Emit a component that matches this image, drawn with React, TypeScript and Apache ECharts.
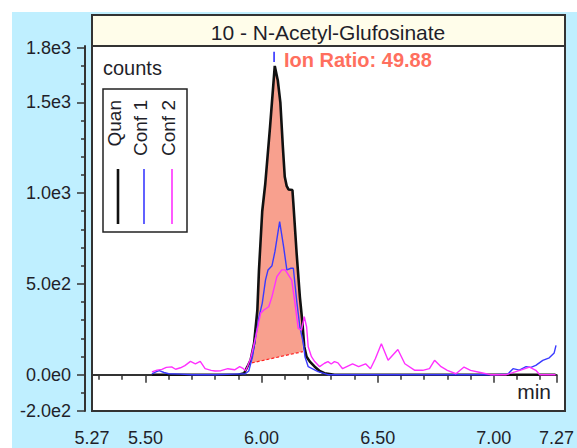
import React, { useEffect, useRef } from "react";
import * as echarts from "echarts";

const chartTitle = "10 - N-Acetyl-Glufosinate";
const yUnit = "counts";
const xUnit = "min";
const seriesNames = ["Quan", "Conf 1", "Conf 2"];
const ionRatioLabel = "Ion Ratio: 49.88";

const xMin = 5.27;
const xMax = 7.27;
const yMin = -200;
const yMax = 1810;
const xLabelTicks = [5.27, 5.5, 6.0, 6.5, 7.0, 7.27];
const xMinorTicks = [5.3, 5.4, 5.6, 5.7, 5.8, 5.9, 6.1, 6.2, 6.3, 6.4, 6.6, 6.7, 6.8, 6.9, 7.1, 7.2];
const yLabelTicks = [-200, 0, 500, 1000, 1500, 1800];
const yMinorTicks = [-100, 100, 200, 300, 400, 600, 700, 800, 900, 1100, 1200, 1300, 1400, 1600, 1700];

// Quan trace (black)
const quan: number[][] = [
  [5.528, 0], [5.6, 0], [5.7, 0], [5.8, 0], [5.9, 0], [5.925, 8], [5.939, 44], [5.953, 81],
  [5.968, 173], [5.982, 356], [5.989, 577], [6.003, 900], [6.016, 1050], [6.037, 1370],
  [6.057, 1700], [6.07, 1620], [6.081, 1500], [6.092, 1250], [6.1, 1090], [6.108, 1040],
  [6.116, 1020], [6.133, 1017], [6.137, 944], [6.151, 670], [6.165, 429], [6.175, 300],
  [6.184, 154], [6.194, 99], [6.208, 72], [6.229, 44], [6.25, 20], [6.271, 8], [6.314, 0],
  [6.5, 0], [6.8, 0], [7.0, 0], [7.266, 0],
];

// Conf 1 trace (blue)
const conf1: number[][] = [
  [5.528, 5], [5.545, 15], [5.56, 22], [5.58, 12], [5.6, 5], [5.65, 3], [5.7, 0], [5.8, 0],
  [5.88, 3], [5.93, 5], [5.945, 20], [5.961, 99], [5.975, 209], [5.989, 319], [6.003, 393],
  [6.017, 521], [6.028, 577], [6.045, 600], [6.058, 680], [6.078, 843], [6.095, 705],
  [6.109, 577], [6.127, 586], [6.137, 586], [6.151, 411], [6.165, 264], [6.18, 173],
  [6.187, 99], [6.201, 44], [6.243, 17], [6.286, 0], [6.5, 0], [6.8, 0], [7.0, 0], [7.06, 3],
  [7.083, 33], [7.11, 25], [7.139, 44], [7.16, 40], [7.181, 51], [7.211, 79], [7.239, 93],
  [7.26, 120], [7.268, 161],
];

// Conf 2 trace (magenta)
const conf2: number[][] = [
  [5.528, 15], [5.55, 25], [5.571, 29], [5.59, 40], [5.613, 43], [5.63, 30], [5.651, 38],
  [5.67, 50], [5.694, 73], [5.715, 60], [5.736, 73], [5.757, 33], [5.783, 24], [5.8, 20],
  [5.825, 22], [5.855, 33], [5.884, 27], [5.906, 44], [5.92, 35], [5.931, 22], [5.939, 44],
  [5.953, 90], [5.975, 209], [5.996, 338], [6.01, 356], [6.031, 374], [6.045, 430],
  [6.066, 540], [6.087, 577], [6.102, 577], [6.13, 521], [6.144, 393], [6.158, 255],
  [6.172, 246], [6.184, 319], [6.194, 264], [6.201, 154], [6.215, 99], [6.229, 72],
  [6.25, 44], [6.271, 63], [6.286, 72], [6.3, 59], [6.314, 72], [6.329, 65], [6.349, 33],
  [6.392, 60], [6.418, 44], [6.448, 60], [6.469, 33], [6.49, 88], [6.516, 170], [6.545, 79],
  [6.587, 139], [6.617, 60], [6.66, 24], [6.694, 24], [6.723, 33], [6.745, 79], [6.773, 44],
  [6.8, 24], [6.837, 5], [6.872, 42], [6.9, 24], [6.942, 12], [6.985, 0], [7.054, 0],
  [7.112, 24], [7.154, 42], [7.181, 24], [7.198, 0], [7.266, 0],
];

// Integration baseline of the quan peak
const baseline: number[][] = [[5.958, 65], [6.178, 127]];
// Apex marker
const apexMarker: number[][] = [[6.054, 1722], [6.054, 1778]];

const FONT = "'Liberation Sans', Arial, sans-serif";
const TEXT = "#1f1f2a";
const AXIS = "#333";
const COLORS = ["#111111", "#3a3aff", "#ff30ff"];

export default function App() {
  const ref = useRef<HTMLDivElement>(null);

  useEffect(() => {
    if (!ref.current) return;
    const chart = echarts.init(ref.current, null, { renderer: "svg" });

    const fmtY = (v: number) => v.toExponential(1).replace("e+", "e");

    const legendX = [118, 144, 172];

    const option: any = {
      animation: false,
      backgroundColor: "#ffffff",
      grid: { left: 92, right: 12, top: 46, bottom: 37, containLabel: false },
      xAxis: [
        {
          type: "value",
          min: xMin,
          max: xMax,
          position: "bottom",
          offset: 7,
          axisLine: { show: true, lineStyle: { color: AXIS, width: 2 } },
          axisTick: { show: true, customValues: xLabelTicks, length: 8, lineStyle: { color: AXIS, width: 1.5 } },
          axisLabel: {
            customValues: xLabelTicks,
            formatter: (v: number) => v.toFixed(2),
            fontSize: 18,
            fontFamily: FONT,
            color: TEXT,
            margin: 11,
          },
          splitLine: { show: false },
        },
        {
          type: "value",
          min: xMin,
          max: xMax,
          position: "bottom",
          offset: 7,
          axisLine: { show: false },
          axisTick: { show: true, customValues: xMinorTicks, length: 5, lineStyle: { color: AXIS, width: 1.5 } },
          axisLabel: { show: false },
          splitLine: { show: false },
        },
      ],
      yAxis: [
        {
          type: "value",
          min: yMin,
          max: yMax,
          position: "left",
          offset: 7,
          axisLine: { show: true, lineStyle: { color: AXIS, width: 2 } },
          axisTick: { show: true, customValues: yLabelTicks, length: 8, lineStyle: { color: AXIS, width: 1.5 } },
          axisLabel: {
            customValues: yLabelTicks,
            formatter: fmtY,
            fontSize: 18,
            fontFamily: FONT,
            color: TEXT,
            margin: 14,
          },
          splitLine: { show: false },
        },
        {
          type: "value",
          min: yMin,
          max: yMax,
          position: "left",
          offset: 7,
          axisLine: { show: false },
          axisTick: { show: true, customValues: yMinorTicks, length: 4, lineStyle: { color: AXIS, width: 1.5 } },
          axisLabel: { show: false },
          splitLine: { show: false },
        },
      ],
      series: [
        {
          type: "custom",
          name: "area",
          xAxisIndex: 0,
          yAxisIndex: 0,
          silent: true,
          z: 1,
          data: [baseline[0]],
          renderItem: (_params: any, api: any) => {
            const inner = quan.filter((p) => p[0] > baseline[0][0] && p[0] < baseline[1][0]);
            const pts = [baseline[0], ...inner, baseline[1]].map((p) => api.coord(p));
            return { type: "polygon", shape: { points: pts }, style: { fill: "#f8a08e", stroke: "none" } };
          },
        },
        {
          type: "line",
          name: "baseline",
          data: baseline,
          symbol: "none",
          z: 2,
          lineStyle: { color: "#ff2020", width: 1.2, type: [3, 2] },
        },
        {
          type: "line",
          name: seriesNames[0],
          data: quan,
          symbol: "none",
          z: 3,
          lineStyle: { color: COLORS[0], width: 2.6 },
        },
        {
          type: "line",
          name: seriesNames[1],
          data: conf1,
          symbol: "none",
          z: 4,
          lineStyle: { color: COLORS[1], width: 1.4 },
        },
        {
          type: "line",
          name: seriesNames[2],
          data: conf2,
          symbol: "none",
          z: 5,
          lineStyle: { color: COLORS[2], width: 1.4 },
        },
        {
          type: "line",
          name: "apex",
          data: apexMarker,
          symbol: "none",
          z: 6,
          lineStyle: { color: "#2222ff", width: 1.5 },
        },
      ],
      graphic: [
        { type: "rect", z: -10, silent: true, shape: { x: 12, y: 12, width: 565, height: 436 }, style: { fill: "#bfefff" } },
        { type: "rect", z: -9, silent: true, shape: { x: 92, y: 15, width: 473, height: 396 }, style: { fill: "#ffffff" } },
        { type: "rect", z: 20, silent: true, shape: { x: 92, y: 15, width: 473, height: 31 }, style: { fill: "#fffdea" } },
        { type: "line", z: 21, silent: true, shape: { x1: 92, y1: 46, x2: 565, y2: 46 }, style: { stroke: AXIS, lineWidth: 2 } },
        { type: "rect", z: 22, silent: true, shape: { x: 92, y: 15, width: 473, height: 396 }, style: { fill: "none", stroke: AXIS, lineWidth: 2 } },
        {
          type: "text", z: 23, silent: true, x: 328, y: 32,
          style: { text: chartTitle, font: `21px ${FONT}`, fill: TEXT, align: "center", verticalAlign: "middle" },
        },
        {
          type: "text", z: 23, silent: true, x: 103, y: 68,
          style: { text: yUnit, font: `20px ${FONT}`, fill: TEXT, align: "left", verticalAlign: "middle" },
        },
        {
          type: "text", z: 23, silent: true, x: 551, y: 391,
          style: { text: xUnit, font: `21px ${FONT}`, fill: TEXT, align: "right", verticalAlign: "middle" },
        },
        {
          type: "text", z: 23, silent: true, x: 284, y: 60,
          style: { text: ionRatioLabel, font: `bold 20px ${FONT}`, fill: "#ff6f5e", align: "left", verticalAlign: "middle" },
        },
        { type: "rect", z: 24, silent: true, shape: { x: 103, y: 89, width: 84, height: 143 }, style: { fill: "#ffffff", stroke: "#222", lineWidth: 1.5 } },
        ...seriesNames.map((name, i) => ({
          type: "text", z: 25, silent: true, x: legendX[i] - 4, y: 100, rotation: Math.PI / 2,
          style: { text: name, font: `19px ${FONT}`, fill: TEXT, align: "right", verticalAlign: "middle" },
        })),
        ...seriesNames.map((_n, i) => ({
          type: "line", z: 25, silent: true,
          shape: { x1: legendX[i], y1: 169, x2: legendX[i], y2: 224 },
          style: { stroke: COLORS[i], lineWidth: i === 0 ? 2.6 : 1.6 },
        })),
      ],
    };

    chart.setOption(option);
    return () => chart.dispose();
  }, []);

  return (
    <div
      ref={ref}
      style={{ position: "fixed", left: 0, top: 0, width: 577, height: 448 }}
    />
  );
}
